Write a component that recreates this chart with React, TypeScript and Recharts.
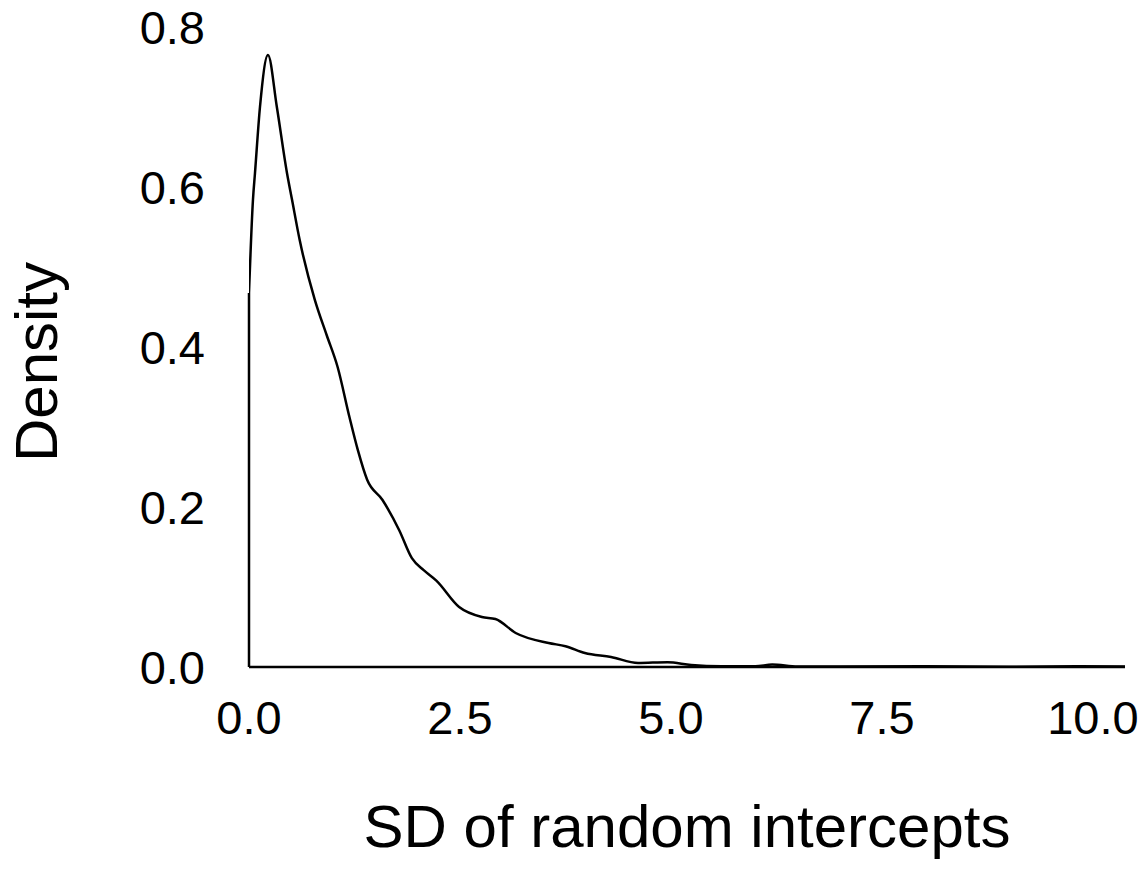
import React from 'react';
import { LineChart, Line, XAxis, YAxis, ReferenceLine, Label } from 'recharts';

const sdValues = [0, 0.047, 0.071, 0.13, 0.225, 0.33, 0.45, 0.51, 0.6, 0.78, 0.92, 1.05, 1.19, 1.29, 1.4, 1.58, 1.78, 1.93, 2.07, 2.22, 2.49, 2.76, 2.92, 3.16, 3.55, 3.75, 3.98, 4.29, 4.61, 4.96, 5.24, 5.6, 6.0, 6.2, 6.5, 7.0, 8.0, 9.0, 9.8, 10.38];
const densityValues = [0.4675, 0.584, 0.6175, 0.7, 0.765, 0.7, 0.6175, 0.584, 0.534, 0.459, 0.415, 0.375, 0.3125, 0.271, 0.234, 0.209, 0.171, 0.136, 0.121, 0.108, 0.075, 0.0625, 0.06, 0.0425, 0.03, 0.026, 0.0175, 0.0125, 0.005, 0.006, 0.0025, 0.001, 0.001, 0.003, 0.0005, 0.0005, 0.0008, 0.0003, 0.0008, 0.0005];
const xTicks = [0, 2.5, 5, 7.5, 10];
const yTicks = [0, 0.2, 0.4, 0.6, 0.8];
const xTitle = 'SD of random intercepts';
const yTitle = 'Density';

const data = sdValues.map((x, i) => ({ x, d: densityValues[i] }));

const FONT = '"Liberation Sans", Arial, sans-serif';

const XTitle = (props: any) => {
  const vb = props.viewBox || {};
  return (
    <text x={vb.x + vb.width / 2} y={vb.y + 180} textAnchor="middle" fontSize={60} fontFamily={FONT} fill="#000">
      {xTitle}
    </text>
  );
};

const YTitle = (props: any) => {
  const vb = props.viewBox || {};
  const x = vb.x + 57;
  const y = vb.y + vb.height / 2 + 15;
  return (
    <text x={x} y={y} transform={`rotate(-90 ${x} ${y})`} textAnchor="middle" fontSize={60} fontFamily={FONT} fill="#000">
      {yTitle}
    </text>
  );
};

export default function App() {
  return (
    <div style={{ position: 'absolute', left: 0, top: 0, width: 1147, height: 871, background: '#fff' }}>
      <LineChart width={1147} height={871} data={data} margin={{ top: 27, right: 22, bottom: 0, left: 0 }}>
        <XAxis
          type="number"
          dataKey="x"
          domain={[0, 10.38]}
          ticks={xTicks}
          allowDataOverflow
          tickFormatter={(v: number) => v.toFixed(1)}
          tick={{ fontSize: 47, fontFamily: FONT, fill: '#000' }}
          tickLine={false}
          tickSize={0}
          tickMargin={34}
          axisLine={{ stroke: '#000', strokeWidth: 2.5 }}
          height={204}
          interval={0}
        >
          <Label content={<XTitle />} />
        </XAxis>
        <YAxis
          type="number"
          domain={[0, 0.8]}
          ticks={yTicks}
          allowDataOverflow
          tickFormatter={(v: number) => v.toFixed(1)}
          tick={{ fontSize: 47, fontFamily: FONT, fill: '#000' }}
          tickLine={false}
          tickSize={0}
          tickMargin={44}
          axisLine={false}
          width={249}
          interval={0}
        >
          <Label content={<YTitle />} />
        </YAxis>
        <ReferenceLine
          segment={[{ x: sdValues[0], y: 0 }, { x: sdValues[0], y: densityValues[0] }]}
          stroke="#000"
          strokeWidth={2.5}
          ifOverflow="visible"
        />
        <Line
          type="monotone"
          dataKey="d"
          stroke="#000"
          strokeWidth={2.5}
          dot={false}
          isAnimationActive={false}
        />
      </LineChart>
    </div>
  );
}
